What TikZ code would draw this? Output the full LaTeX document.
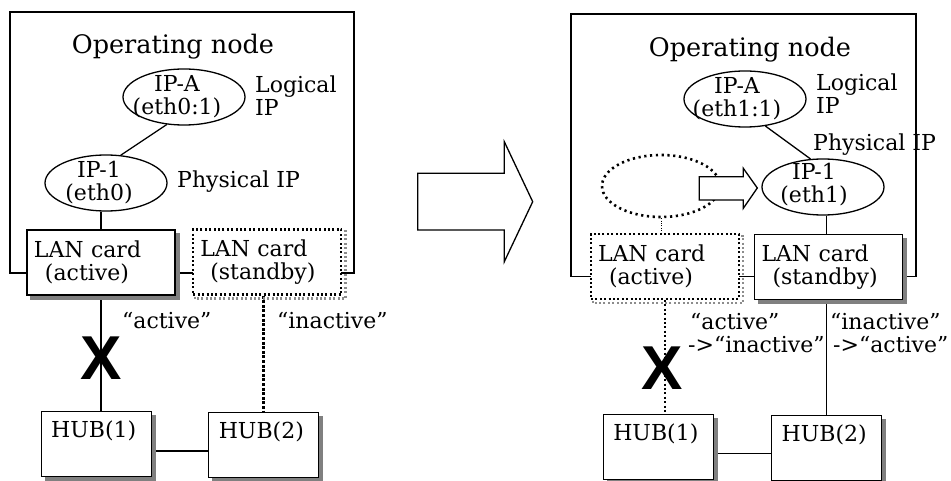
\documentclass[tikz,border=0pt]{standalone}
\usepackage{fontspec}
\setmainfont{DejaVu Serif}
\newfontfamily\crossfont{Liberation Sans}
\usetikzlibrary{shapes.geometric}
\pgfdeclarelayer{background}
\pgfdeclarelayer{shadow}
\pgfsetlayers{background,shadow,main}

\tikzset{
  frame/.style={draw, line width=1.3pt, line join=miter},
  wire/.style={draw, line width=1.3pt},
  thickdots/.style={draw, line width=3.2pt, dash pattern=on 3pt off 1.6pt},
  carddots/.style={draw, line width=2.2pt, dash pattern=on 2pt off 2.4pt},
  thindots/.style={draw, line width=0.9pt, dash pattern=on 1pt off 1.4pt},
  solidshade/.style={fill=black!50},
  dotshade/.style={carddots, draw=black!45},
  lbl/.style={inner sep=0pt, font=\fontsize{22}{23}\selectfont},
  title/.style={inner sep=0pt, font=\fontsize{25.5}{27}\selectfont},
  cross/.style={inner sep=0pt, font=\crossfont\bfseries\fontsize{62}{62}\selectfont},
  ell/.style={ellipse, draw, line width=1.3pt, fill=white, inner sep=0pt,
    minimum width=122pt, minimum height=56pt},
  dotell/.style={ellipse, draw, line width=2.6pt, dash pattern=on 2.2pt off 3.6pt,
    inner sep=0pt, minimum width=118pt, minimum height=62pt},
  boxbase/.style={fill=white, inner sep=0pt, inner xsep=7pt, align=left,
    font=\fontsize{22}{23}\selectfont},
  card/.style={boxbase, draw, line width=1.3pt,
    minimum width=148pt, minimum height=65pt, text width=134pt},
  dotcard/.style={boxbase, carddots, minimum width=148pt, minimum height=65pt, text width=134pt},
  hub/.style={boxbase, draw, line width=1.3pt,
    minimum width=110pt, minimum height=65pt, text width=90pt},
  sh/.style={shift={(4pt,-4pt)}},
  dsh/.style={shift={(3pt,-3pt)}},
}

\begin{document}
\begin{tikzpicture}[x=1pt,y=-1pt]
\useasboundingbox (0,0) rectangle (951,481);

% ---------------- before the switch ----------------
\node[title] (titleL) at (173,47) {Operating node};
\node[ell] (ipaL) at (184,97) {};
\node[lbl, align=center] (ipaLt) at (177,97) {IP-A\\(eth0:1)};
\node[lbl, align=left, anchor=west] (logL) at (255,96) {Logical\\IP};
\node[ell] (ip1L) at (106,183) {};
\node[lbl, align=center] (ip1Lt) at (99,182.5) {IP-1\\(eth0)};
\node[lbl, anchor=west] (physL) at (177,182) {Physical IP};
\node[card] (lanAL) at (101,262.5) {LAN card\\\hspace*{11pt}(active)};
\node[dotcard] (lanSL) at (267.3,262) {LAN card\\\hspace*{10pt}(standby)};
\node[hub] (hub1L) at (96.2,444) {HUB(1)\\\strut};
\node[hub] (hub2L) at (263.8,444.7) {HUB(2)\\\strut};
\node[lbl, anchor=west] (actL) at (122,320) {“active”};
\node[lbl, anchor=west] (inactL) at (277,320) {“inactive”};
\node[cross] (xL) at (101,358) {X};

\begin{pgfonlayer}{shadow}
  \fill[solidshade] ([sh]lanAL.south west) rectangle ([sh]lanAL.north east);
  \draw[dotshade] ([dsh]lanSL.south west) rectangle ([dsh]lanSL.north east);
  \fill[solidshade] ([sh]hub1L.south west) rectangle ([sh]hub1L.north east);
  \fill[solidshade] ([sh]hub2L.south west) rectangle ([sh]hub2L.north east);
\end{pgfonlayer}

\begin{pgfonlayer}{background}
  \draw[frame] (10,12) rectangle (354,273);
  \draw[wire] (ipaL.-122) -- (ip1L.62);
  \draw[wire] (lanAL.north) -- (lanAL.north |- ip1L.south);
  \draw[wire] (lanAL.south) -- (lanAL.south |- hub1L.north);
  \draw[thickdots] (hub2L.north |- lanSL.south) -- (hub2L.north);
  \draw[wire] ([yshift=-7pt]hub1L.east) -- ([yshift=-7pt]hub1L.east -| hub2L.west);
\end{pgfonlayer}

% ---------------- switch arrow ----------------
\draw[frame, fill=white] (417.7,173.3) -- (504.3,173.3) -- (504.3,141.7)
  -- (532.7,201.7) -- (504.3,261.7) -- (504.3,230) -- (417.7,230) -- cycle;

% ---------------- after the switch ----------------
\node[title] (titleR) at (750,50) {Operating node};
\node[ell] (ipaR) at (745,99) {};
\node[lbl, align=center] (ipaRt) at (737,99) {IP-A\\(eth1:1)};
\node[lbl, align=left, anchor=west] (logR) at (816,93.5) {Logical\\IP};
\node[lbl, anchor=west] (physR) at (813,145) {Physical IP};
\node[ell] (ip1R) at (823,187) {};
\node[lbl, align=center] (ip1Rt) at (814,185) {IP-1\\(eth1)};
\node[dotell] (oldR) at (661,186) {};
\draw[frame, fill=white] (699.3,176.7) -- (743.3,176.7) -- (743.3,168.3)
  -- (757.3,188) -- (743.3,208.3) -- (743.3,200) -- (699.3,200) -- cycle;
\node[dotcard] (lanAR) at (665,266.3) {LAN card\\\hspace*{11pt}(active)};
\node[card] (lanSR) at (828.5,266.7) {LAN card\\\hspace*{11pt}(standby)};
\node[hub] (hub1R) at (658.3,446.7) {HUB(1)\\\strut};
\node[hub] (hub2R) at (826.6,448) {HUB(2)\\\strut};
\node[lbl, align=left, anchor=west] (chgA) at (688,333.3) {\hspace*{2pt}“active”\\->“inactive”};
\node[lbl, align=left, anchor=west] (chgS) at (830,333.3) {“inactive”\\\hspace*{3pt}->“active”};
\node[cross] (xR) at (661.7,368) {X};

\begin{pgfonlayer}{shadow}
  \draw[dotshade] ([dsh]lanAR.south west) rectangle ([dsh]lanAR.north east);
  \fill[solidshade] ([sh]lanSR.south west) rectangle ([sh]lanSR.north east);
  \fill[solidshade] ([sh]hub1R.south west) rectangle ([sh]hub1R.north east);
  \fill[solidshade] ([sh]hub2R.south west) rectangle ([sh]hub2R.north east);
\end{pgfonlayer}

\begin{pgfonlayer}{background}
  \draw[frame] (571,14) rectangle (916,276.7);
  \draw[wire] (ipaR.-53) -- (ip1R.114);
  \draw[wire] (hub2R.north |- ip1R.south) -- (hub2R.north |- lanSR.north);
  \draw[wire] (hub2R.north |- lanSR.south) -- (hub2R.north);
  \draw[thindots] (oldR.south) -- (oldR.south |- lanAR.north);
  \draw[carddots] (lanAR.south) -- (lanAR.south |- hub1R.north);
  \draw[wire] ([yshift=-6.6pt]hub1R.east) -- ([yshift=-6.6pt]hub1R.east -| hub2R.west);
\end{pgfonlayer}
\end{tikzpicture}
\end{document}
